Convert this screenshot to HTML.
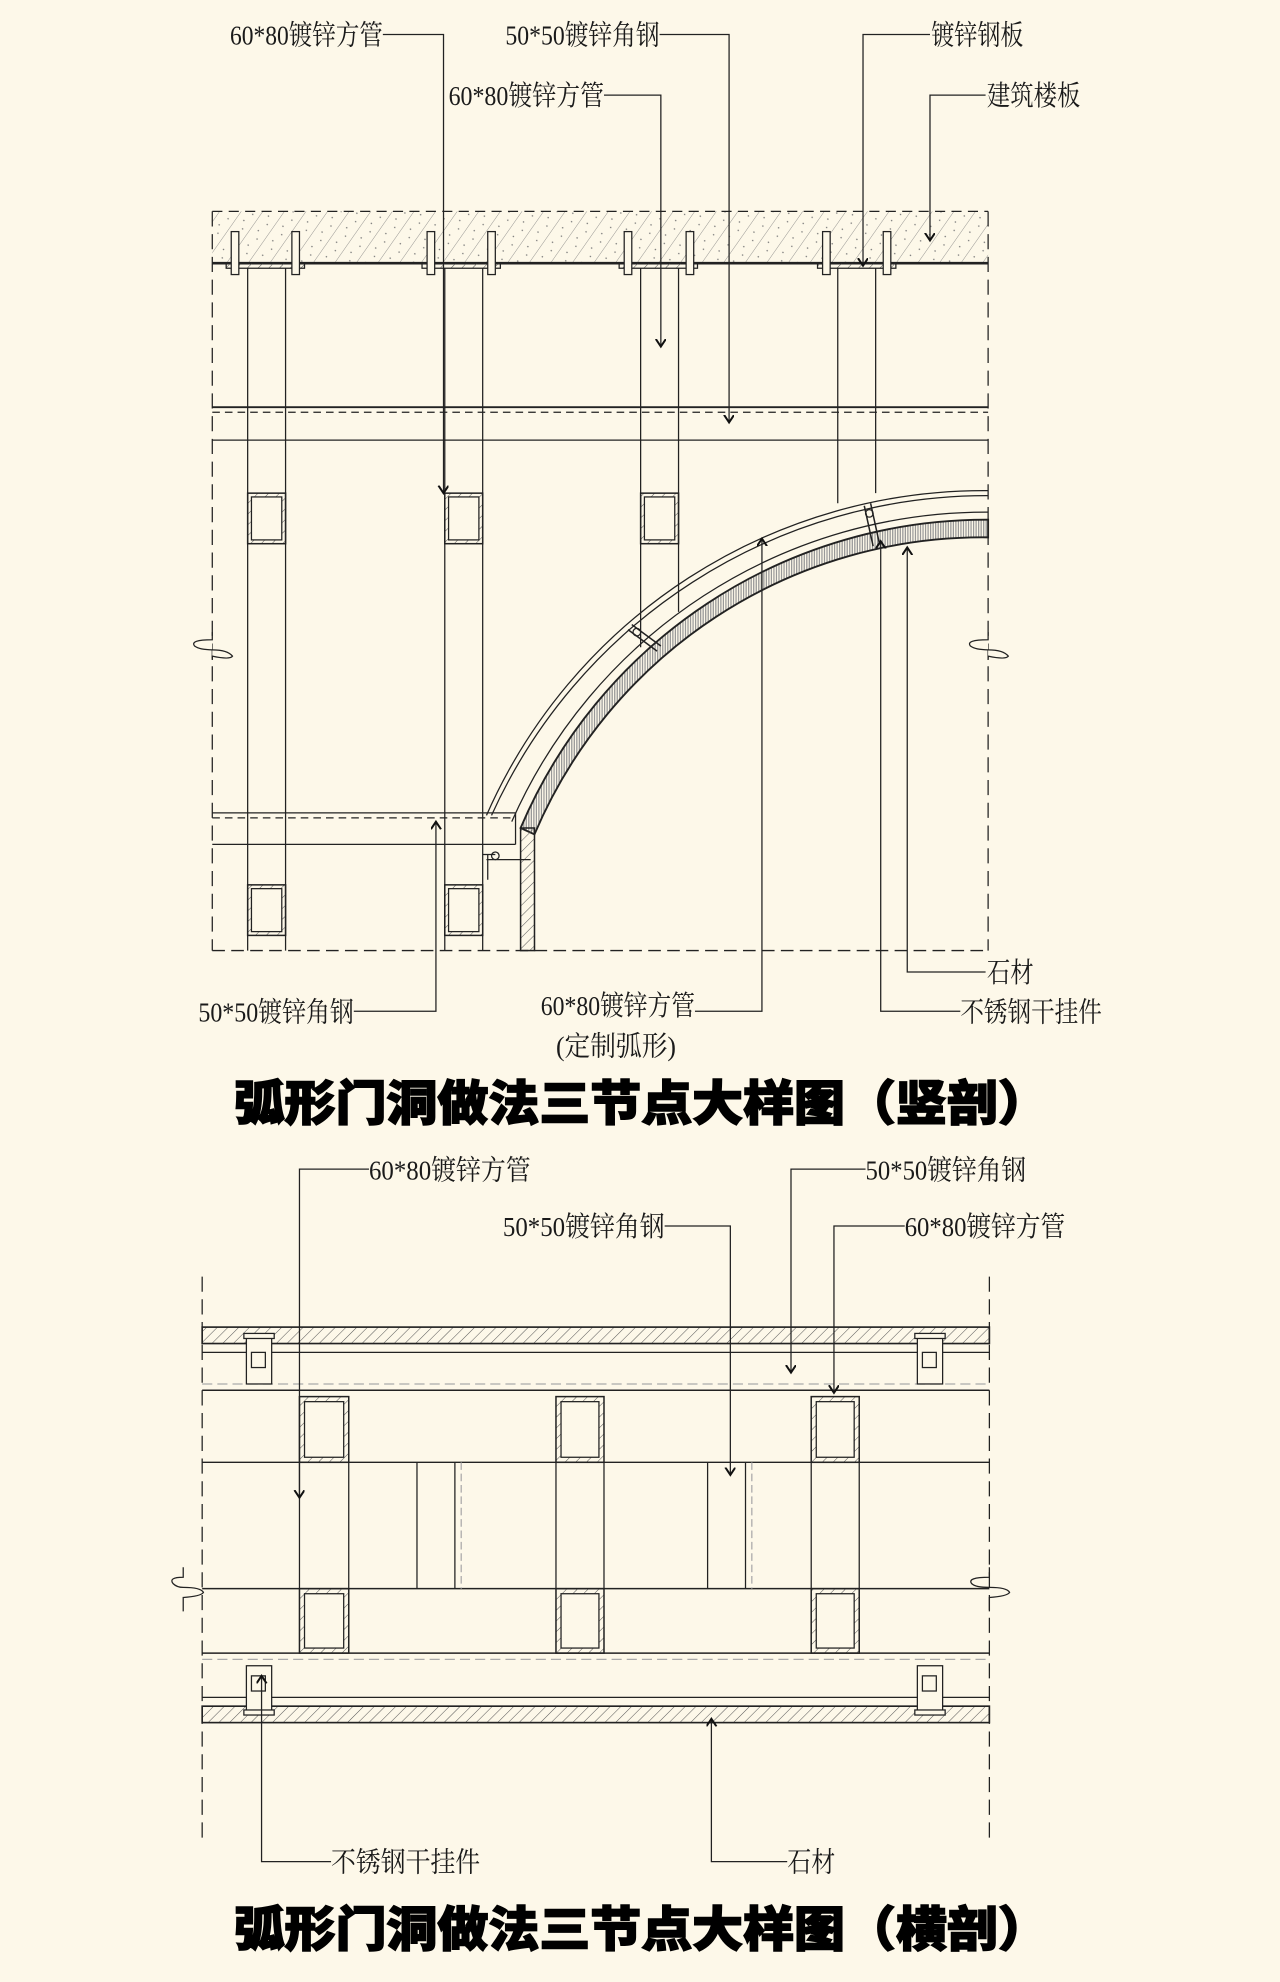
<!DOCTYPE html>
<html><head><meta charset="utf-8"><style>
html,body{margin:0;padding:0;background:#fdf8e9;}
svg{display:block;}
.l{font-family:"Liberation Serif","Noto Serif CJK SC",serif;font-size:22px;fill:#1a1a1a;}
.t{font-family:"Liberation Sans","Noto Sans CJK SC",sans-serif;font-size:38px;font-weight:900;fill:#000;stroke:#000;stroke-width:1.2px;}
</style></head><body>
<svg width="1280" height="1982" viewBox="0 0 1013 1568" xmlns="http://www.w3.org/2000/svg">
<defs>
<pattern id="h" width="6" height="6" patternUnits="userSpaceOnUse" patternTransform="rotate(45)"><line x1="0" y1="0" x2="0" y2="6" stroke="#555" stroke-width="0.8"/></pattern>
<pattern id="hc" width="14" height="14" patternUnits="userSpaceOnUse" patternTransform="rotate(35)"><line x1="0" y1="0" x2="0" y2="14" stroke="#777" stroke-width="0.6"/><circle cx="6" cy="4" r="0.6" fill="#777"/><circle cx="9" cy="10" r="0.6" fill="#777"/></pattern>
<pattern id="d" width="2" height="2" patternUnits="userSpaceOnUse"><rect width="1" height="2" fill="#999"/></pattern>
<marker id="a" markerWidth="10" markerHeight="10" refX="6" refY="4" orient="auto" markerUnits="userSpaceOnUse"><path d="M0,0 L6,4 L0,8" fill="none" stroke="#111" stroke-width="1.6"/></marker>
</defs>
<rect width="1013" height="1568" fill="#fdf8e9"/>
<g stroke="#222" stroke-width="1" fill="none">
<rect x="168" y="167" width="614" height="41" fill="url(#hc)" stroke="none"/>
<line x1="168" y1="167" x2="782" y2="167" stroke-dasharray="8,5"/>
<line x1="168" y1="208" x2="782" y2="208" stroke-width="2"/>
<line x1="168" y1="167" x2="168" y2="752" stroke-dasharray="12,6"/>
<line x1="782" y1="167" x2="782" y2="752" stroke-dasharray="12,6"/>
<line x1="168" y1="752" x2="782" y2="752" stroke-dasharray="10,5"/>
<g fill="url(#h)">
<rect x="179" y="208" width="62" height="4"/><rect x="334" y="208" width="62" height="4"/><rect x="490" y="208" width="62" height="4"/><rect x="647" y="208" width="62" height="4"/>
</g>
<g fill="#fdf8e9">
<rect x="183" y="183" width="6" height="34"/><rect x="231" y="183" width="6" height="34"/>
<rect x="338" y="183" width="6" height="34"/><rect x="386" y="183" width="6" height="34"/>
<rect x="494" y="183" width="6" height="34"/><rect x="543" y="183" width="6" height="34"/>
<rect x="651" y="183" width="6" height="34"/><rect x="699" y="183" width="6" height="34"/>
</g>
<path d="M196 212V752M226 212V752M352 212V752M382 212V752M507 212V512M537 212V484M663 212V398M693 212V390"/>
<line x1="168" y1="322" x2="782" y2="322" stroke-width="1.5"/>
<line x1="168" y1="326" x2="782" y2="326" stroke-dasharray="6,4"/>
<line x1="168" y1="348" x2="782" y2="348"/>
<line x1="168" y1="643" x2="408" y2="643"/>
<line x1="168" y1="647" x2="408" y2="647" stroke-dasharray="6,4"/>
<line x1="168" y1="668" x2="408" y2="668"/>
<line x1="408" y1="643" x2="408" y2="668"/>
<g fill="url(#h)" stroke-width="1.2">
<rect x="196" y="390" width="30" height="40"/><rect x="352" y="390" width="30" height="40"/><rect x="507" y="390" width="30" height="40"/>
<rect x="196" y="700" width="30" height="40"/><rect x="352" y="700" width="30" height="40"/>
</g>
<g fill="#fdf8e9"><rect x="199" y="393" width="24" height="34"/><rect x="355" y="393" width="24" height="34"/><rect x="510" y="393" width="24" height="34"/><rect x="199" y="703" width="24" height="34"/><rect x="355" y="703" width="24" height="34"/></g>
<path d="M385 645 A430 430 0 0 1 782 388"/>
<path d="M389 645 A430 430 0 0 1 782 392"/>
<path d="M405 650 A410 410 0 0 1 782 405"/>
<path d="M412 655 A400 400 0 0 1 782 411 L782 425 A385 385 0 0 0 423 660 Z" fill="url(#d)" stroke-width="1.5"/>
<rect x="412" y="655" width="11" height="97" fill="url(#h)" stroke-width="1.2"/>
<path d="M497 498 L520 515 M500 494 L523 511 M684 400 L691 432 M689 398 L696 430" stroke-width="1.2"/>
<circle cx="504" cy="500" r="3"/><circle cx="688" cy="406" r="3"/>
<path d="M385 680 L420 680 M386 676 V696 M382 676 h10"/>
<circle cx="392" cy="677" r="3"/>
<path d="M168 500 V506 q-18 0 -14 5 q4 3 14 3 q12 0 16 5 q-2 3 -16 0 V522" fill="#fdf8e9"/>
<path d="M782 500 V506 q-18 0 -14 5 q4 3 14 3 q12 0 16 5 q-2 3 -16 0 V522" fill="#fdf8e9"/>
<path d="M303 27H351V390" marker-end="url(#a)"/>
<path d="M522 27H577V334" marker-end="url(#a)"/>
<path d="M478 75H523V274" marker-end="url(#a)"/>
<path d="M736 27H683V210" marker-end="url(#a)"/>
<path d="M780 75H736V190" marker-end="url(#a)"/>
<path d="M280 800H345V650" marker-end="url(#a)"/>
<path d="M550 800H603V426" marker-end="url(#a)"/>
<path d="M780 769H718V433" marker-end="url(#a)"/>
<path d="M760 800H697V428" marker-end="url(#a)"/>

<line x1="160" y1="1010" x2="160" y2="1460" stroke-dasharray="12,6"/>
<line x1="783" y1="1010" x2="783" y2="1460" stroke-dasharray="12,6"/>
<rect x="160" y="1050" width="623" height="13" fill="url(#h)" stroke-width="1.3"/>
<line x1="160" y1="1070" x2="783" y2="1070"/>
<line x1="160" y1="1095" x2="783" y2="1095" stroke="#aaa" stroke-dasharray="8,4"/>
<line x1="160" y1="1100" x2="783" y2="1100" stroke-width="1.2"/>
<line x1="160" y1="1157" x2="783" y2="1157"/>
<line x1="160" y1="1257" x2="783" y2="1257" stroke-width="1.2"/>
<line x1="160" y1="1308" x2="783" y2="1308" stroke-width="1.2"/>
<line x1="160" y1="1313" x2="783" y2="1313" stroke="#aaa" stroke-dasharray="8,4"/>
<line x1="160" y1="1343" x2="783" y2="1343"/>
<rect x="160" y="1350" width="623" height="13" fill="url(#h)" stroke-width="1.3"/>
<path d="M237 1157V1257M276 1157V1257M440 1157V1257M478 1157V1257M642 1157V1257M680 1157V1257"/>
<path d="M330 1157V1257M360 1157V1257M560 1157V1257M590 1157V1257"/>
<path d="M365 1157V1257M595 1157V1257" stroke="#aaa" stroke-dasharray="6,3"/>
<g fill="url(#h)" stroke-width="1.2">
<rect x="237" y="1105" width="39" height="52"/><rect x="440" y="1105" width="38" height="52"/><rect x="642" y="1105" width="38" height="52"/>
<rect x="237" y="1257" width="39" height="51"/><rect x="440" y="1257" width="38" height="51"/><rect x="642" y="1257" width="38" height="51"/>
</g>
<g fill="#fdf8e9"><rect x="241" y="1109" width="31" height="44"/><rect x="444" y="1109" width="30" height="44"/><rect x="646" y="1109" width="30" height="44"/><rect x="241" y="1261" width="31" height="43"/><rect x="444" y="1261" width="30" height="43"/><rect x="646" y="1261" width="30" height="43"/></g>
<g fill="#fdf8e9">
<rect x="195" y="1057" width="20" height="38"/><rect x="726" y="1057" width="20" height="38"/>
<rect x="195" y="1318" width="20" height="36"/><rect x="726" y="1318" width="20" height="36"/>
<rect x="199" y="1070" width="11" height="12"/><rect x="730" y="1070" width="11" height="12"/>
<rect x="199" y="1326" width="11" height="12"/><rect x="730" y="1326" width="11" height="12"/>
<rect x="193" y="1055" width="24" height="4"/><rect x="724" y="1055" width="24" height="4"/>
<rect x="193" y="1353" width="24" height="4"/><rect x="724" y="1353" width="24" height="4"/>
</g>
<path d="M145 1240 V1248 q-12 0 -8 5 q3 3 8 3 q14 0 16 4 q-2 3 -16 4 V1275" fill="none"/>
<path d="M783 1240 V1248 q-18 0 -14 5 q3 3 14 3 q14 0 16 4 q-2 3 -16 4 V1275" fill="none"/>
<path d="M292 925H237V1185" marker-end="url(#a)"/>
<path d="M685 925H626V1086" marker-end="url(#a)"/>
<path d="M526 970H578V1167" marker-end="url(#a)"/>
<path d="M716 970H660V1102" marker-end="url(#a)"/>
<path d="M262 1473H207V1326" marker-end="url(#a)"/>
<path d="M623 1473H563V1360" marker-end="url(#a)"/>
</g>
<g class="l">
<text x="182" y="35" textLength="121" lengthAdjust="spacingAndGlyphs">60*80镀锌方管</text>
<text x="400" y="35" textLength="122" lengthAdjust="spacingAndGlyphs">50*50镀锌角钢</text>
<text x="355" y="83" textLength="123" lengthAdjust="spacingAndGlyphs">60*80镀锌方管</text>
<text x="737" y="35" textLength="73" lengthAdjust="spacingAndGlyphs">镀锌钢板</text>
<text x="781" y="83" textLength="74" lengthAdjust="spacingAndGlyphs">建筑楼板</text>
<text x="157" y="808" textLength="123" lengthAdjust="spacingAndGlyphs">50*50镀锌角钢</text>
<text x="428" y="803" textLength="122" lengthAdjust="spacingAndGlyphs">60*80镀锌方管</text>
<text x="440" y="835" textLength="95" lengthAdjust="spacingAndGlyphs">(定制弧形)</text>
<text x="781" y="777" textLength="37" lengthAdjust="spacingAndGlyphs">石材</text>
<text x="760" y="808" textLength="112" lengthAdjust="spacingAndGlyphs">不锈钢干挂件</text>
<text x="292" y="933" textLength="128" lengthAdjust="spacingAndGlyphs">60*80镀锌方管</text>
<text x="685" y="933" textLength="127" lengthAdjust="spacingAndGlyphs">50*50镀锌角钢</text>
<text x="398" y="978" textLength="128" lengthAdjust="spacingAndGlyphs">50*50镀锌角钢</text>
<text x="716" y="978" textLength="127" lengthAdjust="spacingAndGlyphs">60*80镀锌方管</text>
<text x="262" y="1481" textLength="118" lengthAdjust="spacingAndGlyphs">不锈钢干挂件</text>
<text x="623" y="1481" textLength="38" lengthAdjust="spacingAndGlyphs">石材</text>
</g>
<text class="t" x="185" y="886" textLength="645" lengthAdjust="spacingAndGlyphs">弧形门洞做法三节点大样图（竖剖）</text>
<text class="t" x="185" y="1540" textLength="645" lengthAdjust="spacingAndGlyphs">弧形门洞做法三节点大样图（横剖）</text>
</svg>
</body></html>
